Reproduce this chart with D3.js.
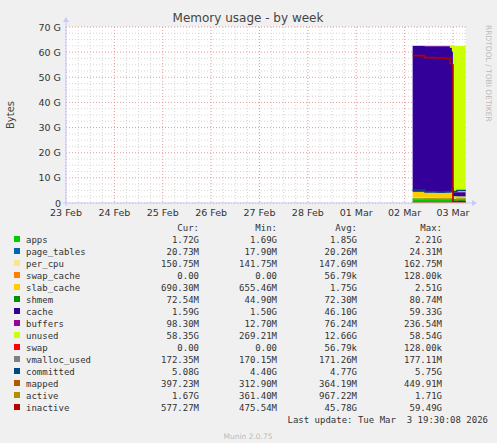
<!DOCTYPE html>
<html><head><meta charset="utf-8">
<script src="https://cdn.jsdelivr.net/npm/d3@7"></script>
<style>
body{margin:0;background:#f0f0f0}
text{font-family:"DejaVu Sans",sans-serif}
.mono{font-family:"DejaVu Sans Mono",monospace;font-size:9px;fill:#333}
</style></head><body>
<svg width="497" height="443"></svg>
<script>
// hours since 23 Feb 00:00
const times = [172, 178, 184, 188, 190.5, 191.5, 192, 194, 198.3]
const dayLabels = ["23 Feb","24 Feb","25 Feb","26 Feb","27 Feb","28 Feb","01 Mar","02 Mar","03 Mar"]
const yTicks = [0,10,20,30,40,50,60,70]

const names = ["apps","page_tables","per_cpu","swap_cache","slab_cache","shmem","cache","buffers","unused","swap","vmalloc_used","committed","mapped","active","inactive"]
const colors = ["#00cc00","#0066b3","#ffe38a","#ff8000","#ffcc00","#008f00","#330099","#990099","#ccff00","#ff0000","#808080","#00487d","#b35a00","#b38f00","#b30000"]
const cur = ["1.72G","20.73M","150.75M","0.00","690.30M","72.54M","1.59G","98.30M","58.35G","0.00","172.35M","5.08G","397.23M","1.67G","577.27M"]
const min = ["1.69G","17.90M","141.75M","0.00","655.46M","44.90M","1.50G","12.70M","269.21M","0.00","170.15M","4.40G","312.90M","361.40M","475.54M"]
const avg = ["1.85G","20.26M","147.69M","56.79k","1.75G","72.30M","46.10G","76.24M","12.66G","56.79k","171.26M","4.77G","364.19M","967.22M","45.78G"]
const max = ["2.21G","24.31M","162.75M","128.00k","2.51G","80.74M","59.33G","236.54M","58.54G","128.00k","177.11M","5.75G","449.91M","1.71G","59.49G"]

// values in GB at each time
const apps        = [1.9, 1.9, 1.8, 1.8, 1.85, 1.9, 1.8, 1.75, 1.72]
const page_tables = [0.02,0.02,0.02,0.02,0.02,0.02,0.02,0.02,0.02]
const per_cpu     = [0.15,0.15,0.15,0.15,0.15,0.15,0.15,0.15,0.15]
const swap_cache  = [0,0,0,0,0,0.1,0,0,0]
const slab_cache  = [2.3, 2.0, 2.0, 2.1, 2.2, 2.4, 0.7, 0.7, 0.69]
const shmem       = [0.07,0.07,0.07,0.07,0.07,0.07,0.07,0.07,0.07]
const cache       = [58.0, 58.2, 58.3, 58.2, 57.5, 55.5, 1.5, 1.6, 1.59]
const buffers     = [0.1, 0.1, 0.1, 0.1, 0.1, 0.2, 0.1, 0.1, 0.1]
const unused      = [0.3, 0.3, 0.3, 0.3, 0.9, 2.5, 58.2, 58.1, 58.35]
const swap        = [0,0,0,0,0,0,0,0,0]
const vmalloc_used= [0.17,0.17,0.17,0.17,0.17,0.17,0.17,0.17,0.17]
const committed   = [5.2, 4.5, 4.4, 4.5, 4.6, 5.7, 4.6, 5.0, 5.08]
const mapped      = [0.36,0.35,0.35,0.36,0.36,0.45,0.4,0.4,0.4]
const active      = [1.5, 1.6, 1.6, 1.6, 1.6, 1.7, 0.4, 1.6, 1.67]
const inactive    = [58.6, 57.8, 57.7, 57.5, 55.5, 55.0, 0.5, 0.55, 0.58]

const stackSeries = [apps,page_tables,per_cpu,swap_cache,slab_cache,shmem,cache,buffers,unused,swap]
const lineSeries = [vmalloc_used,committed,mapped,active,inactive]

const svg = d3.select("svg")
const y = d3.scaleLinear().domain([0,70]).range([203,27])
const xd = d3.scaleLinear().domain([0,8.27*24]).range([66,466])

svg.append("rect").attr("x",66).attr("y",27).attr("width",400).attr("height",176).attr("fill","#fff")
svg.append("clipPath").attr("id","clip").append("rect").attr("x",66).attr("y",27).attr("width",400).attr("height",176)

// grid
const g = svg.append("g")
d3.range(0,70.1,2.5).forEach(v=>{
  g.append("line").attr("x1",66).attr("x2",466).attr("y1",y(v)).attr("y2",y(v))
   .attr("stroke", v%10===0 ? "#e08080" : "#cccccc").attr("stroke-dasharray","1,2").attr("stroke-width",0.8)
})
d3.range(0, 8.27*24, 6).forEach(h=>{
  g.append("line").attr("x1",xd(h)).attr("x2",xd(h)).attr("y1",27).attr("y2",203)
   .attr("stroke", h%24===0 ? "#e08080" : "#cccccc").attr("stroke-dasharray","1,2").attr("stroke-width",0.8)
})

// stacked areas
const rows = times.map((t,i)=>{
  const r = {t}
  names.slice(0,10).forEach((n,k)=>r[n]=stackSeries[k][i])
  return r
})
const stack = d3.stack().keys(names.slice(0,10))(rows)
const area = d3.area().x(d=>xd(d.data.t)).y0(d=>y(d[0])).y1(d=>y(d[1])).curve(d3.curveStepAfter)
const plot = svg.append("g").attr("clip-path","url(#clip)")
plot.append("g").selectAll("path").data(stack).enter().append("path")
  .attr("d",area).attr("fill",(d,i)=>colors[i])

const line = d3.line().x((d,i)=>xd(times[i])).y(d=>y(d)).curve(d3.curveStepAfter)
plot.append("g").selectAll("path").data(lineSeries).enter().append("path")
  .attr("d",line).attr("fill","none").attr("stroke",(d,i)=>colors[10+i]).attr("stroke-width",1.6)

// axes
svg.append("line").attr("x1",63).attr("x2",472).attr("y1",203).attr("y2",203).attr("stroke","#c8c8ff")
svg.append("path").attr("d","M472,200 L477,203 L472,206 Z").attr("fill","#c8c8ff")
svg.append("line").attr("x1",66).attr("x2",66).attr("y1",206).attr("y2",22).attr("stroke","#c8c8ff")
svg.append("path").attr("d","M63,22 L66,17 L69,22 Z").attr("fill","#c8c8ff")

svg.append("g").selectAll("text").data(yTicks).enter().append("text")
  .attr("x",61).attr("y",d=>y(d)+3.5).attr("text-anchor","end").attr("font-size",9.5).attr("fill","#333")
  .text(d=>d===0?"0":d+" G")
svg.append("g").selectAll("text").data(dayLabels).enter().append("text")
  .attr("x",(d,i)=>xd(i*24)).attr("y",216).attr("text-anchor","middle").attr("font-size",9.5).attr("fill","#333")
  .text(d=>d)

svg.append("text").attr("x",248).attr("y",22).attr("text-anchor","middle").attr("font-size",12).attr("fill","#444").text("Memory usage - by week")
svg.append("text").attr("transform","translate(14,115) rotate(-90)").attr("text-anchor","middle").attr("font-size",10).attr("fill","#444").text("Bytes")
svg.append("text").attr("transform","translate(486,25) rotate(90)").attr("font-size",7.5).attr("fill","#bbb").text("RRDTOOL / TOBI OETIKER")

// legend
const hdr = [["Cur:",199],["Min:",277],["Avg:",357],["Max:",442]]
hdr.forEach(h=>svg.append("text").attr("class","mono").attr("x",h[1]).attr("y",231).attr("text-anchor","end").text(h[0]))
const cols = [cur,min,avg,max]
names.forEach((n,i)=>{
  const yy = 243 + i*12
  svg.append("rect").attr("x",14).attr("y",yy-7).attr("width",6).attr("height",6).attr("fill",colors[i])
  svg.append("text").attr("class","mono").attr("x",26).attr("y",yy).text(n)
  cols.forEach((c,k)=>svg.append("text").attr("class","mono").attr("x",hdr[k][1]).attr("y",yy).attr("text-anchor","end").text(c[i]))
})
svg.append("text").attr("class","mono").attr("x",488).attr("y",423).attr("text-anchor","end").attr("xml:space","preserve").text("Last update: Tue Mar  3 19:30:08 2026")
svg.append("text").attr("x",248).attr("y",439).attr("text-anchor","middle").attr("font-size",7.5).attr("fill","#bbb").text("Munin 2.0.75")
</script></body></html>
